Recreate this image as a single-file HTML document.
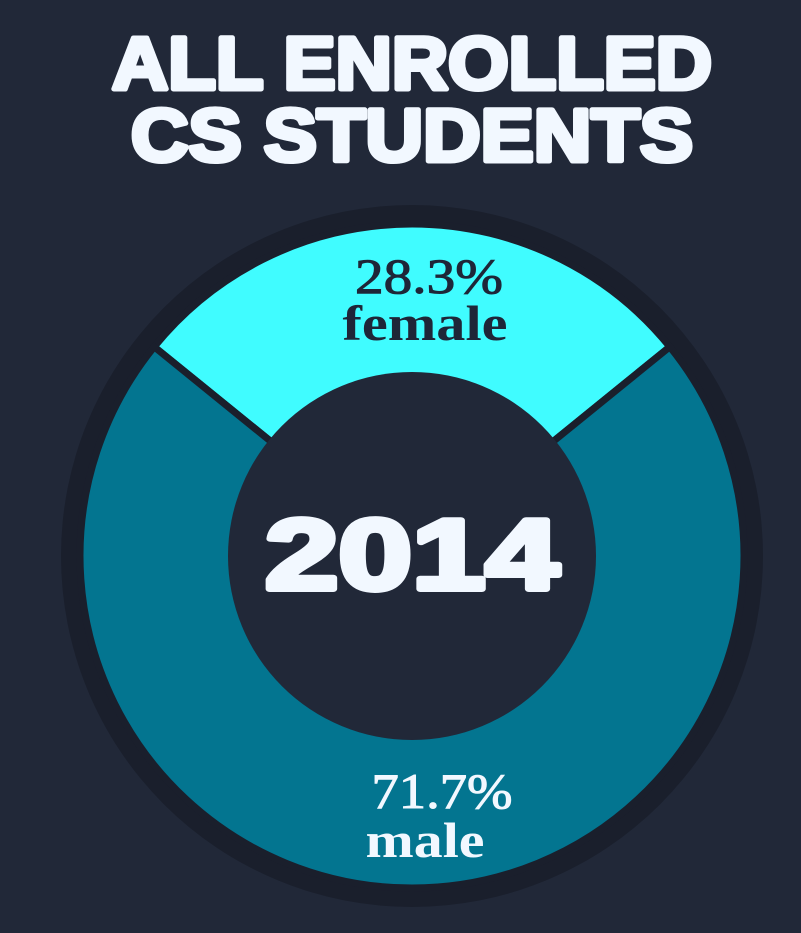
<!DOCTYPE html>
<html><head><meta charset="utf-8">
<style>
html,body{margin:0;padding:0;background:#212838;}
svg{display:block;}
</style></head>
<body>
<svg id="chart" width="801" height="933" viewBox="0 0 801 933" xmlns="http://www.w3.org/2000/svg">
  <rect width="801" height="933" fill="#212838"/>
  <text x="412" y="89" text-anchor="middle" font-family="Liberation Sans, sans-serif" font-weight="bold" font-size="74" fill="#f2f8ff" stroke="#f2f8ff" stroke-width="5" stroke-linejoin="round" textLength="600" lengthAdjust="spacingAndGlyphs">ALL ENROLLED</text>
  <text x="412" y="161" text-anchor="middle" font-family="Liberation Sans, sans-serif" font-weight="bold" font-size="74" fill="#f2f8ff" stroke="#f2f8ff" stroke-width="5" stroke-linejoin="round" textLength="562" lengthAdjust="spacingAndGlyphs">CS STUDENTS</text>
  <circle cx="412" cy="556" r="351" fill="#1a1f2c"/>
  <g id="slices"></g>
  <circle cx="412" cy="556" r="184" fill="#212838"/>
  <text x="412" y="589" text-anchor="middle" font-family="Liberation Sans, sans-serif" font-weight="bold" font-size="100" fill="#f2f8ff" stroke="#f2f8ff" stroke-width="6" stroke-linejoin="round" textLength="294" lengthAdjust="spacingAndGlyphs">2014</text>
  <g id="labels"></g>
</svg>
<script>
const categories = ["female", "male"];
const values = [28.3, 71.7];
const colors = ["#40fcff", "#037590"];
const labelColors = ["#1e2638", "#f2f8ff"];

const NS = "http://www.w3.org/2000/svg";
const cx = 412, cy = 556, rOut = 332, rIn = 184;
const total = values.reduce((a, b) => a + b, 0);
function pt(angDeg, r) {
  const a = (angDeg - 90) * Math.PI / 180;
  return [cx + r * Math.cos(a), cy + r * Math.sin(a)];
}
const slicesG = document.getElementById('slices');
const labelsG = document.getElementById('labels');
let start = -(values[0] / total) * 180;
values.forEach((v, i) => {
  const sweep = v / total * 360;
  const end = start + sweep;
  const [x1, y1] = pt(start, rOut), [x2, y2] = pt(end, rOut);
  const large = sweep > 180 ? 1 : 0;
  const p = document.createElementNS(NS, 'path');
  p.setAttribute('d', `M${cx},${cy} L${x1},${y1} A${rOut},${rOut} 0 ${large} 1 ${x2},${y2} Z`);
  p.setAttribute('fill', colors[i]);
  p.setAttribute('stroke', '#1a1f2c');
  p.setAttribute('stroke-width', '7');
  
  
  slicesG.appendChild(p);
  const mid = start + sweep / 2;
  const [lx, ly] = pt(mid, (rOut + rIn) / 2 + 4);
  const bottom = ly > cy;
  const t1 = document.createElementNS(NS, 'text');
  t1.setAttribute('x', bottom ? lx + 30 : lx + 17);
  t1.setAttribute('y', bottom ? ly - 10 : ly - 1);
  t1.setAttribute('text-anchor', 'middle');
  t1.setAttribute('font-family', 'Liberation Serif, serif');
  t1.setAttribute('font-size', '50');
  t1.setAttribute('fill', labelColors[i]);
  t1.setAttribute('stroke', labelColors[i]);
  t1.setAttribute('stroke-width', '1');
  t1.setAttribute('textLength', bottom ? '141' : '148');
  t1.setAttribute('lengthAdjust', 'spacingAndGlyphs');
  t1.textContent = v.toFixed(1) + '%';
  
  
  labelsG.appendChild(t1);
  const t2 = document.createElementNS(NS, 'text');
  t2.setAttribute('x', bottom ? lx + 13 : lx + 13);
  t2.setAttribute('y', bottom ? ly + 39 : ly + 46);
  t2.setAttribute('text-anchor', 'middle');
  t2.setAttribute('font-family', 'Liberation Serif, serif');
  t2.setAttribute('font-size', '50');
  t2.setAttribute('font-weight', 'bold');
  t2.setAttribute('fill', labelColors[i]);
  t2.setAttribute('textLength', bottom ? '119' : '165');
  t2.setAttribute('lengthAdjust', 'spacingAndGlyphs');
  t2.textContent = categories[i];
  
  
  labelsG.appendChild(t2);
  start = end;
});
</script>
</body></html>
